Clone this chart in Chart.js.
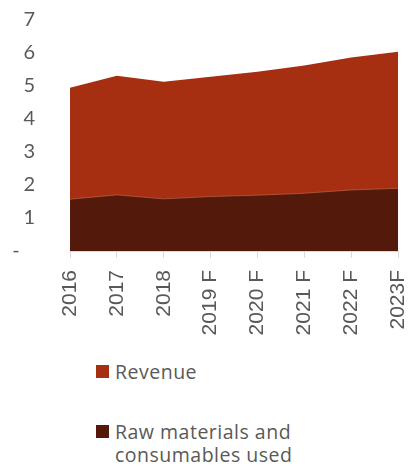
<!DOCTYPE html>
<html>
<head>
<meta charset="utf-8">
<script src="https://cdn.jsdelivr.net/npm/chart.js@4"></script>
<style>
  html, body { margin: 0; padding: 0; background: #fff; }
  #wrap { position: relative; width: 409px; height: 468px; }
  #chart-box { position: absolute; left: 0; top: 0; width: 409px; height: 345px; }
  #legend { position: absolute; left: 96px; top: 0; font-family: 'Open Sans', sans-serif; font-size: 19.5px; letter-spacing: 0.5px; color: #595959; }
  .item { position: absolute; left: 0; width: 260px; }
  .swatch { position: absolute; left: 0; top: 5px; width: 13px; height: 13px; }
  .label { position: absolute; left: 19px; top: 0; line-height: 23px; white-space: nowrap; }
</style>
</head>
<body>
<div id="wrap">
  <div id="chart-box"><canvas id="areaChart"></canvas></div>
  <div id="legend"></div>
</div>
<script>
const years = ['2016', '2017', '2018', '2019 F', '2020 F', '2021 F', '2022 F', '2023F'];
const revenue = [4.95, 5.31, 5.13, 5.28, 5.43, 5.62, 5.86, 6.04];
const rawMaterials = [1.57, 1.70, 1.58, 1.65, 1.69, 1.75, 1.85, 1.90];
const yTicks = [0, 1, 2, 3, 4, 5, 6, 7];

const revenueColor = '#a62f12';
const rawColor = '#531a0b';
const textGrey = '#595959';

// revenue sits behind, raw materials drawn over it (index 0 is painted last)
const chart = new Chart(document.getElementById('areaChart'), {
    type: 'line',
    data: {
        labels: years,
        datasets: [
            {
                label: 'Raw materials and consumables used',
                data: rawMaterials,
                backgroundColor: rawColor,
                borderColor: 'rgba(200, 110, 80, 0.6)',
                borderWidth: 1,
                pointRadius: 0,
                fill: 'origin',
                tension: 0
            },
            {
                label: 'Revenue',
                data: revenue,
                backgroundColor: revenueColor,
                borderColor: revenueColor,
                borderWidth: 0,
                pointRadius: 0,
                fill: 'origin',
                tension: 0
            }
        ]
    },
    options: {
        responsive: true,
        maintainAspectRatio: false,
        animation: false,
        layout: { padding: 0 },
        plugins: {
            legend: { display: false },
            tooltip: { enabled: false }
        },
        scales: {
            x: {
                offset: false,
                grid: {
                    display: true,
                    drawOnChartArea: false,
                    tickLength: 7,
                    color: '#d9d9d9'
                },
                border: { display: true, color: '#d9d9d9', width: 1, z: 1 },
                ticks: {
                    minRotation: 90,
                    maxRotation: 90,
                    padding: 12,
                    color: textGrey,
                    font: { family: "'Liberation Sans', Arial, sans-serif", size: 21 }
                },
                afterFit: function(scale) {
                    scale.height = 94;
                    scale.paddingLeft = 0;
                    scale.paddingRight = 11;
                }
            },
            y: {
                min: 0,
                max: 7,
                afterBuildTicks: function(scale) {
                    scale.ticks = yTicks.map(v => ({ value: v }));
                },
                grid: { display: false, drawTicks: false },
                border: { display: false },
                ticks: {
                    padding: 35,
                    color: textGrey,
                    font: { family: 'Lato, sans-serif', size: 20 },
                    // zero shows as a dash, padded like the digits beside it
                    callback: function(v) { return v === 0 ? '-   ' : v; }
                },
                afterFit: function(scale) {
                    scale.width = 70;
                    scale.paddingTop = 20;
                    scale.paddingBottom = 0;
                }
            }
        }
    }
});

// legend: revenue first, then raw materials
const legendEl = document.getElementById('legend');
const legendRows = [
    { index: 1, top: 360, lines: ['Revenue'] },
    { index: 0, top: 420, lines: ['Raw materials and', 'consumables used'] }
];
legendRows.forEach(row => {
    const ds = chart.data.datasets[row.index];
    const item = document.createElement('div');
    item.className = 'item';
    item.style.top = row.top + 'px';
    item.innerHTML = '<div class="swatch" style="background:' + ds.backgroundColor + '"></div>' +
        '<div class="label">' + row.lines.join('<br>') + '</div>';
    legendEl.appendChild(item);
});
</script>
</body>
</html>
